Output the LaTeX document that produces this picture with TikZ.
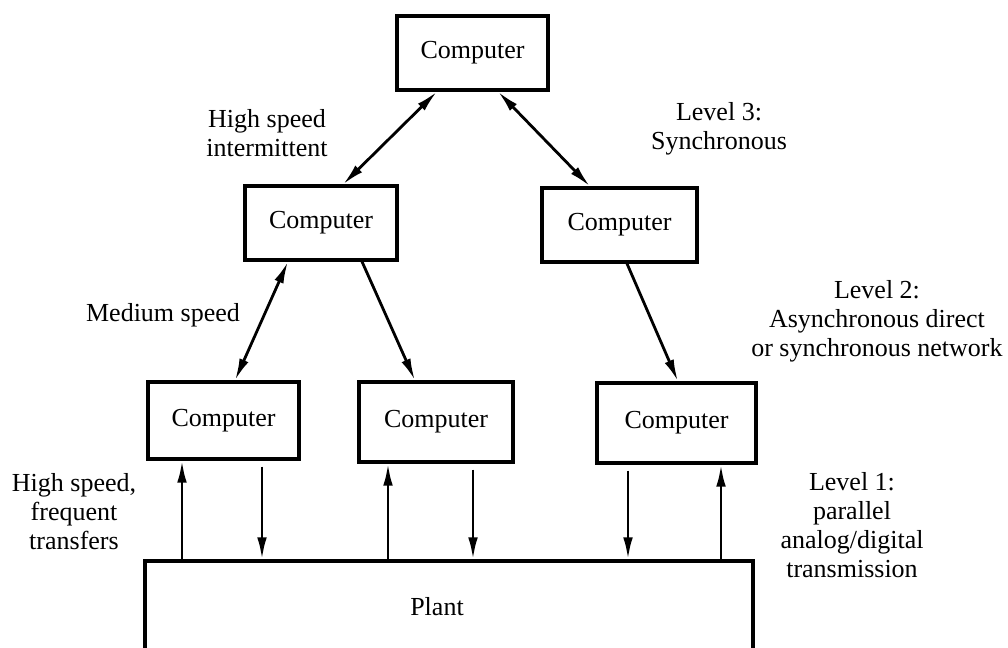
\documentclass[tikz,border=0pt]{standalone}
\usepackage{fontspec}
\setmainfont{Liberation Serif}
\usetikzlibrary{arrows.meta,calc}
\begin{document}
\begin{tikzpicture}[x=0.5pt,y=-0.5pt,
  comp/.style={draw, line width=1.6pt, inner sep=0pt, font=\fontsize{13}{14.5}\selectfont},
  lbl/.style={align=center, inner sep=0pt, font=\fontsize{13}{14.5}\selectfont},
  link/.style={line width=1.4pt},
  dbl/.style={{Latex[length=11pt,width=4.8pt]}-{Latex[length=11pt,width=4.8pt]}},
  one/.style={-{Latex[length=11pt,width=4.8pt]}}
]
\useasboundingbox (0,0) rectangle (1008,648);
\clip (0,0) rectangle (1008,648);

% computers
\node[comp, minimum width=75.5pt, minimum height=37pt] (top) at (472.5,53) {Computer};
\node[comp, minimum width=76pt, minimum height=37pt] (l2a) at (321,223) {Computer};
\node[comp, minimum width=77.5pt, minimum height=37pt] (l2b) at (619.5,225) {Computer};
\node[comp, minimum width=75.5pt, minimum height=38.5pt] (l1a) at (223.5,420.5) {Computer};
\node[comp, minimum width=77pt, minimum height=40pt] (l1b) at (436,422) {Computer};
\node[comp, minimum width=79.5pt, minimum height=40pt] (l1c) at (676.5,423) {Computer};

% plant
\node[draw, line width=1.6pt, inner sep=0pt, minimum width=304pt, minimum height=100pt] (plant) at (449,661) {};
\node[lbl] (plantlbl) at (437,607) {Plant};

% links between computers
\draw[link,dbl] ($(top.south)+(-35.5,0)$) -- ($(l2a.north)+(22,0)$);
\draw[link,dbl] ($(top.south)+(25.5,0)$) -- ($(l2b.north)+(-29.5,0)$);
\draw[link,dbl] ($(l2a.south)+(-33,0)$) -- ($(l1a.north)+(11.5,0)$);
\draw[link,one] ($(l2a.south)+(41,0)$) -- ($(l1b.north)+(-21,0)$);
\draw[link,one] ($(l2b.south)+(7.5,0)$) -- ($(l1c.north)+(1.5,0)$);

% links to plant
\draw[link,one] (plant.north -| 182,0) -- (l1a.south -| 182,0);
\draw[link,one] ([yshift=-3pt]l1a.south -| 262,0) -- (plant.north -| 262,0);
\draw[link,one] (plant.north -| 388,0) -- (l1b.south -| 388,0);
\draw[link,one] ([yshift=-3pt]l1b.south -| 473,0) -- (plant.north -| 473,0);
\draw[link,one] ([yshift=-3pt]l1c.south -| 628,0) -- (plant.north -| 628,0);
\draw[link,one] (plant.north -| 721,0) -- (l1c.south -| 721,0);

% labels
\node[lbl] (hsi) at (267,133) {High speed\\intermittent};
\node[lbl] (lv3) at (719,128.5) {Level 3:\\Synchronous};
\node[lbl] (ms) at (163,315) {Medium speed};
\node[lbl] (lv2) at (877,321) {Level 2:\\Asynchronous direct\\or synchronous network};
\node[lbl] (hsf) at (74,512) {High speed,\\frequent\\transfers};
\node[lbl] (lv1) at (852,525) {Level 1:\\parallel\\analog/digital\\transmission};
\end{tikzpicture}
\end{document}
